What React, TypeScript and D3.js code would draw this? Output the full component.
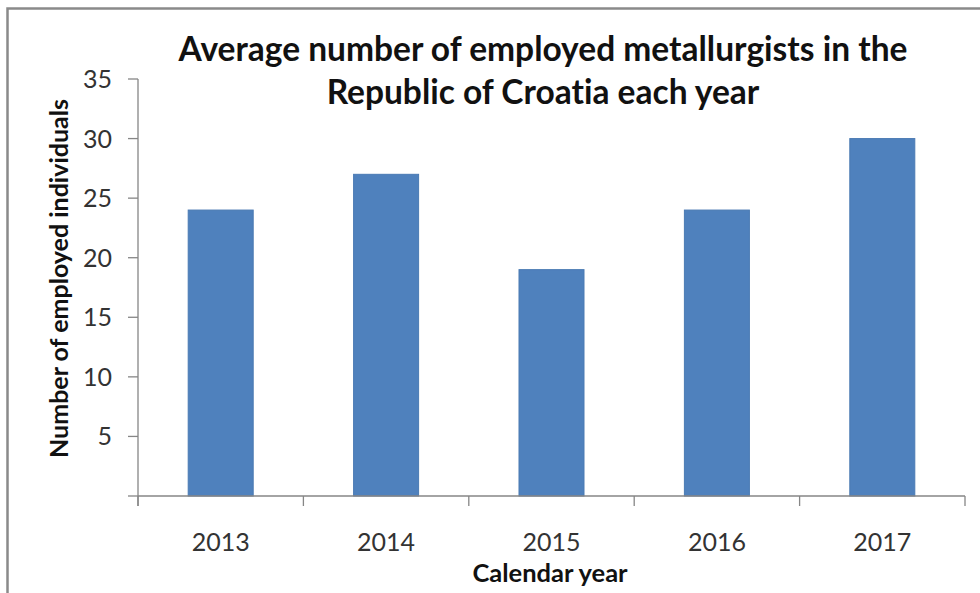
import React from "react";
import * as d3 from "d3";

const years = ["2013", "2014", "2015", "2016", "2017"];
const employed = [24, 27, 19, 24, 30];
const yTicks = [0, 5, 10, 15, 20, 25, 30, 35];
const titleLines = ["Average number of employed metallurgists in the", "Republic of Croatia each year"];
const yLabel = "Number of employed individuals";
const xLabel = "Calendar year";

const W = 980;
const H = 593;
const FONT = "Lato, 'Open Sans', sans-serif";

export default function App() {
  const x = d3.scaleBand<string>().domain(years).range([138, 965]).paddingInner(0.607).paddingOuter(0.3035);
  const y = d3.scaleLinear().domain([0, 35]).range([496, 79]);
  const step = x.step();
  const x0 = 138;
  const axisColor = "#868686";
  return (
    <svg
      width={W}
      height={H}
      style={{ position: "absolute", left: 0, top: 0, background: "#fff", fontVariantLigatures: "none" }}
      fontFamily={FONT}
    >
      <rect x={0} y={0} width={W} height={H} fill="#fff" />
      <path d={`M7.5,${H} V8.5 H${W}`} fill="none" stroke="#8a8a8a" strokeWidth={2.5} />
      {titleLines.map((t, i) => (
        <text key={i} x={543} y={61 + i * 43} textAnchor="middle" fontSize={33.5} fontWeight="bold" fill="#111">
          {t}
        </text>
      ))}
      {years.map((yr, i) => (
        <rect
          key={yr}
          x={x(yr)}
          y={y(employed[i])}
          width={x.bandwidth()}
          height={y(0) - y(employed[i])}
          fill="#4F81BD"
          stroke="#4a7ab3"
          strokeWidth={1}
        />
      ))}
      <line x1={x0} x2={x0} y1={y(35)} y2={506} stroke={axisColor} strokeWidth={1.3} />
      {yTicks.map((t) => (
        <g key={t}>
          <line x1={128} x2={x0} y1={y(t)} y2={y(t)} stroke={axisColor} strokeWidth={1.3} />
          {t > 0 && (
            <text x={112} y={y(t)} dy="0.36em" textAnchor="end" fontSize={25} fill="#333">
              {t}
            </text>
          )}
        </g>
      ))}
      <line x1={x0} x2={965} y1={y(0)} y2={y(0)} stroke={axisColor} strokeWidth={1.3} />
      {d3.range(years.length + 1).map((i) => (
        <line key={i} x1={x0 + i * step} x2={x0 + i * step} y1={y(0)} y2={506} stroke={axisColor} strokeWidth={1.3} />
      ))}
      {years.map((yr) => (
        <text key={yr} x={(x(yr) as number) + x.bandwidth() / 2} y={551} textAnchor="middle" fontSize={25} fill="#333">
          {yr}
        </text>
      ))}
      <text x={550} y={582} textAnchor="middle" fontSize={25.5} fontWeight="bold" fill="#111">
        {xLabel}
      </text>
      <text
        transform={`translate(68,${(95 + 462) / 2}) rotate(-90)`}
        textAnchor="middle"
        fontSize={25}
        fontWeight="bold"
        fill="#111"
      >
        {yLabel}
      </text>
    </svg>
  );
}
